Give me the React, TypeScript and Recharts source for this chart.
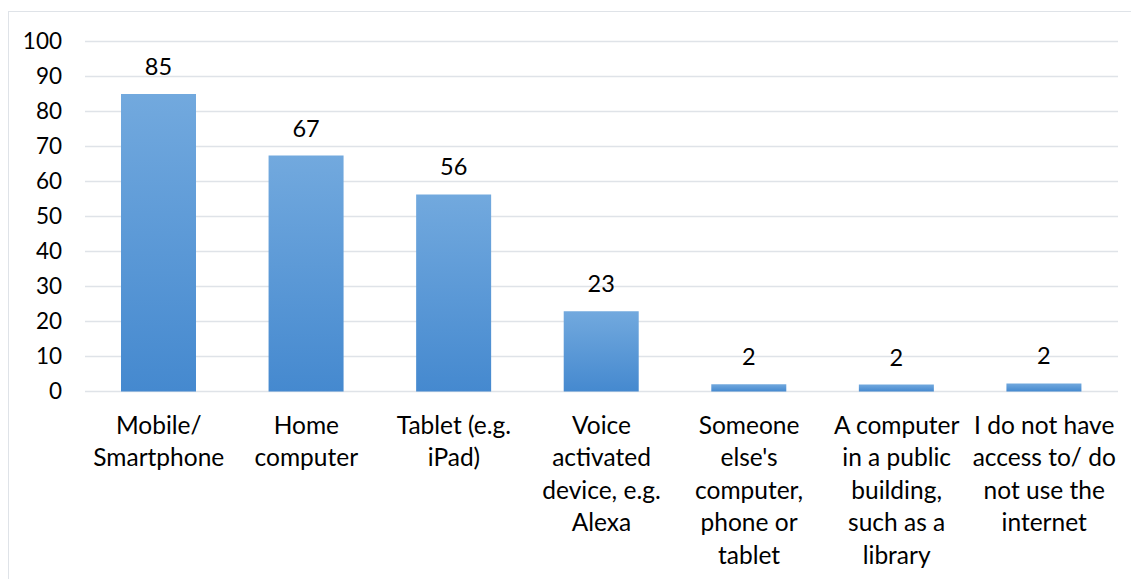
import { BarChart, Bar, XAxis, YAxis, CartesianGrid, LabelList } from 'recharts';

const categories = [
  'Mobile/\nSmartphone',
  'Home\ncomputer',
  'Tablet (e.g.\niPad)',
  'Voice\nactivated\ndevice, e.g.\nAlexa',
  "Someone\nelse's\ncomputer,\nphone or\ntablet",
  'A computer\nin a public\nbuilding,\nsuch as a\nlibrary',
  'I do not have\naccess to/ do\nnot use the\ninternet',
];
const values = [85, 67.4, 56.3, 22.9, 2.1, 2.0, 2.3];
const yTicks = [0, 10, 20, 30, 40, 50, 60, 70, 80, 90, 100];

const FONT = 'Lato, "Open Sans", sans-serif';
const NUM_SIZE = 22.5;
const LABEL_SIZE = 24.5;

const data = categories.map((name, i) => ({ name, value: values[i] }));

function CategoryTick(props: any) {
  const { x, y, payload } = props;
  const lines = String(payload.value).split('\n');
  return (
    <text x={x} y={y} textAnchor="middle" fill="#000" fontSize={LABEL_SIZE} fontFamily={FONT}>
      {lines.map((line, i) => (
        <tspan key={i} x={x} dy={i === 0 ? 42 : 32.5}>
          {line}
        </tspan>
      ))}
    </text>
  );
}

export default function App() {
  return (
    <div style={{ position: 'absolute', left: 0, top: 0, width: 1131, height: 579, overflow: 'hidden', background: '#fff' }}>
      <div
        style={{
          position: 'absolute',
          left: 8,
          top: 11,
          width: 1200,
          height: 700,
          border: '1.5px solid #dfe3e8',
        }}
      />
      <div style={{ position: 'absolute', left: 0, top: 0 }}>
        <BarChart
          width={1131}
          height={579}
          data={data}
          margin={{ top: 41.5, right: 13, left: 0, bottom: 0 }}
          barSize={75}
        >
          <defs>
            <linearGradient id="barFill" x1="0" y1="0" x2="0" y2="1">
              <stop offset="0%" stopColor="#72a9de" />
              <stop offset="100%" stopColor="#4589cf" />
            </linearGradient>
          </defs>
          <CartesianGrid vertical={false} stroke="#dfe3e8" strokeWidth={1.5} />
          <XAxis
            dataKey="name"
            axisLine={false}
            tickLine={false}
            tickSize={0}
            tickMargin={0}
            height={187.5}
            interval={0}
            tick={<CategoryTick />}
          />
          <YAxis
            domain={[0, 100]}
            ticks={yTicks}
            axisLine={false}
            tickLine={false}
            tickSize={0}
            tickMargin={23}
            width={85}
            tick={{ fill: '#000', fontSize: NUM_SIZE, fontFamily: FONT }}
          />
          <Bar dataKey="value" fill="url(#barFill)" isAnimationActive={false}>
            <LabelList
              dataKey="value"
              position="top"
              offset={19}
              formatter={(v: any) => Math.round(Number(v))}
              style={{ fill: '#000', fontSize: 23.5, fontFamily: FONT }}
            />
          </Bar>
        </BarChart>
      </div>
    </div>
  );
}
